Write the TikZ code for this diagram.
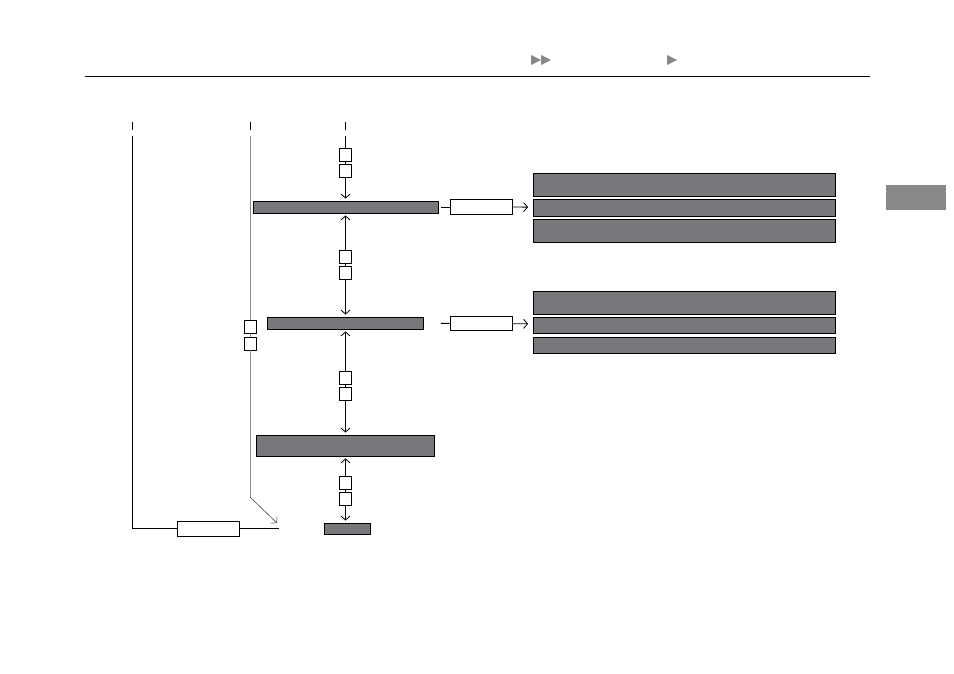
\documentclass[tikz,border=0pt]{standalone}
\usetikzlibrary{arrows.meta}

\definecolor{barfill}{RGB}{119,120,124}
\definecolor{tabgray}{RGB}{136,136,136}
\definecolor{railgray}{RGB}{140,140,140}

\tikzset{
    bar/.style={draw, fill=barfill, line width=0.8pt, inner sep=0pt, minimum width=#1},
    tag/.style={draw, fill=white, line width=0.8pt, inner sep=0pt, minimum width=62pt},
    knob/.style={draw, fill=white, line width=0.8pt, inner sep=0pt, minimum width=12pt, minimum height=13pt},
    link/.style={line width=0.8pt, black},
    >={Straight Barb[length=4pt, width=9pt]}
}

\begin{document}
\begin{tikzpicture}[x=1pt, y=-1pt]
    \useasboundingbox (0,0) rectangle (954,674);

    % Header rule and markers
    \draw[line width=1pt] (85,77) -- (870,77);
    \fill[tabgray] (531,55) -- (541,60) -- (531,65) -- cycle;
    \fill[tabgray] (541,55) -- (551,60) -- (541,65) -- cycle;
    \fill[tabgray] (667,55) -- (677,60) -- (667,65) -- cycle;
    \fill[tabgray] (886,185) rectangle (946,210);

    % Short ticks on top of the rails
    \foreach \x in {132, 250, 345.5} {
        \draw[link] (\x,122) -- (\x,130);
    }

    % Main column
    \node[bar=185pt, minimum height=12pt] (boxA) at (345.5,207) {};
    \node[bar=156pt, minimum height=12pt] (boxB) at (345.5,323) {};
    \node[bar=178pt, minimum height=21pt] (boxC) at (345.5,445.5) {};
    \node[bar=46pt, minimum height=11pt] (boxD) at (347,528.5) {};

    % Right-hand groups
    \node[bar=302pt, minimum height=23pt] (ra) at (684.5,184.5) {};
    \node[bar=302pt, minimum height=17pt] (rb) at (684.5,207.5) {};
    \node[bar=302pt, minimum height=23pt] (rc) at (684.5,230.5) {};
    \node[bar=302pt, minimum height=23pt] (sa) at (684.5,302.5) {};
    \node[bar=302pt, minimum height=16pt] (sb) at (684.5,325) {};
    \node[bar=302pt, minimum height=16pt] (sc) at (684.5,345) {};

    % Tags
    \node[tag, minimum height=15pt] (tagA) at (481,207) {};
    \node[tag, minimum height=14pt] (tagB) at (481,323.5) {};
    \node[tag, minimum height=15pt] (tagL) at (208,528.5) {};

    % Small boxes on the connectors
    \node[knob] (k1) at (345.5,154.5) {};
    \node[knob] (k2) at (345.5,171) {};
    \node[knob] (m1) at (345.5,257) {};
    \node[knob] (m2) at (345.5,273) {};
    \node[knob] (n1) at (345.5,377.5) {};
    \node[knob] (n2) at (345.5,393.5) {};
    \node[knob] (p1) at (345.5,482.5) {};
    \node[knob] (p2) at (345.5,498.5) {};
    \node[knob] (q1) at (250,327) {};
    \node[knob] (q2) at (250,343.5) {};

    \coordinate (top1) at (132,136);
    \coordinate (top2) at (250,136);
    \coordinate (top3) at (345.5,136);
    \coordinate (bend2) at (250,497);
    \coordinate (tip2) at (277,523);
    \coordinate (end1) at (279,528.5);

    % Right column rail
    \draw[link] (top3) -- (k1);
    \draw[link] (k1) -- (k2);
    \draw[link, ->, shorten >=2pt] (k2) -- (boxA);

    % Between the bars
    \draw[link, <-, shorten <=2pt] (boxA) -- (m1);
    \draw[link] (m1) -- (m2);
    \draw[link, ->, shorten >=2pt] (m2) -- (boxB);
    \draw[link, <-, shorten <=2pt] (boxB) -- (n1);
    \draw[link] (n1) -- (n2);
    \draw[link, ->, shorten >=2pt] (n2) -- (boxC);
    \draw[link, <-, shorten <=2pt] (boxC) -- (p1);
    \draw[link] (p1) -- (p2);
    \draw[link, ->, shorten >=2pt] (p2) -- (p2 |- boxD.north);

    % Out to the right
    \draw[link, shorten <=3pt] (boxA) -- (tagA);
    \draw[link, ->, shorten >=5pt] (tagA) -- (rb);
    \draw[link, shorten <=17pt] (boxB) -- (tagB);
    \draw[link, ->, shorten >=5pt] (tagB) -- (sb);

    % Middle rail (gray)
    \draw[line width=1pt, railgray] (top2) -- (q1);
    \draw[line width=1pt, railgray] (q1) -- (q2);
    \draw[line width=1pt, railgray] (q2) -- (bend2);
    \draw[line width=0.6pt, black!70, ->] (bend2) -- (tip2);

    % Left rail
    \draw[link] (top1) |- (tagL);
    \draw[link] (tagL) -- (end1);
\end{tikzpicture}
\end{document}
